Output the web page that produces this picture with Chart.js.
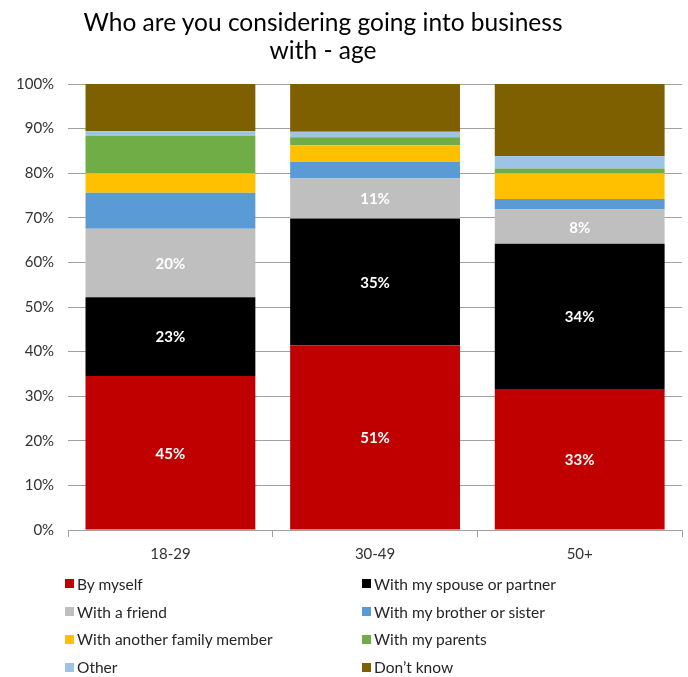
<!DOCTYPE html>
<html>
<head>
<meta charset="utf-8">
<script src="https://cdn.jsdelivr.net/npm/chart.js@4.4.1/dist/chart.umd.min.js"></script>
<style>
  body { margin: 0; background: #fff; }
  #wrap { position: relative; width: 688px; height: 677px; }
  #chart { position: absolute; left: 0; top: 0; }
  #title {
    position: absolute; left: 0; top: 8px; width: 646px; text-align: center;
    font-family: Lato, sans-serif; font-size: 24.5px; line-height: 28px; color: #000;
  }
  #legend {
    position: absolute; left: 65px; top: 570px;
    display: grid; grid-template-columns: 297px 300px; grid-auto-rows: 27.8px;
    font-family: Lato, sans-serif; font-size: 15.5px; color: #262626;
  }
  #legend div { display: flex; align-items: center; white-space: nowrap; }
  #legend span.box { width: 9px; height: 9px; margin-right: 3px; flex: none; }
</style>
</head>
<body>
<div id="wrap">
  <canvas id="chart" width="688" height="571"></canvas>
  <div id="title">Who are you considering going into business<br>with - age</div>
  <div id="legend"></div>
</div>
<script>
const categories = ['18-29', '30-49', '50+'];

// share of respondents per age group (multiple answers, so groups add up past 100)
const byMyself = [45, 51, 33];
const spouse = [23, 35, 34];
const friend = [20, 11, 8];
const sibling = [10.5, 4.6, 2.5];
const otherFamily = [5.7, 4.6, 6.0];
const parents = [10.9, 2.2, 1.1];
const other = [1.4, 1.5, 2.9];
const dontKnow = [13.8, 13.2, 16.9];

const seriesNames = [
    'By myself', 'With my spouse or partner', 'With a friend', 'With my brother or sister',
    'With another family member', 'With my parents', 'Other', 'Don\u2019t know'
];
const seriesColors = ['#C00000', '#000000', '#BFBFBF', '#5B9BD5', '#FFC000', '#70AD47', '#9DC3E6', '#7F6000'];
const series = [byMyself, spouse, friend, sibling, otherFamily, parents, other, dontKnow];

// labelled segments (first three series)
const labelled = 3;

// scale each group so the stack fills 100%
const totals = categories.map((c, j) => series.reduce((s, arr) => s + arr[j], 0));
const datasets = series.map((arr, i) => ({
    label: seriesNames[i],
    data: arr.map((v, j) => v / totals[j] * 100),
    backgroundColor: seriesColors[i],
    borderWidth: 0,
    categoryPercentage: 1,
    barPercentage: 0.83
}));

const segmentLabels = {
    id: 'segmentLabels',
    afterDatasetsDraw(chart) {
        const ctx = chart.ctx;
        ctx.save();
        ctx.fillStyle = '#fff';
        ctx.font = 'bold 15px Lato';
        ctx.textAlign = 'center';
        ctx.textBaseline = 'middle';
        for (let i = 0; i < labelled; i++) {
            chart.getDatasetMeta(i).data.forEach((bar, j) => {
                const { x, y, base } = bar.getProps(['x', 'y', 'base'], true);
                ctx.fillText(Math.round(series[i][j]) + '%', x, (y + base) / 2 + 1);
            });
        }
        ctx.restore();
    }
};

new Chart(document.getElementById('chart'), {
    type: 'bar',
    data: { labels: categories, datasets: datasets },
    options: {
        responsive: false,
        animation: false,
        layout: { padding: { left: 2, right: 6, top: 84, bottom: 0 } },
        plugins: {
            legend: { display: false },
            tooltip: { enabled: false }
        },
        scales: {
            x: {
                stacked: true,
                grid: { display: true, drawOnChartArea: false, offset: true, tickLength: 7, color: '#a0a0a0' },
                border: { color: '#a0a0a0' },
                ticks: { color: '#333', font: { family: 'Lato', size: 15 }, padding: 8 }
            },
            y: {
                stacked: true,
                min: 0,
                max: 100,
                grid: { color: '#a0a0a0', drawTicks: false },
                border: { display: false },
                ticks: {
                    stepSize: 10,
                    color: '#333',
                    font: { family: 'Lato', size: 15 },
                    padding: 14,
                    callback: v => v + '%'
                }
            }
        }
    },
    plugins: [segmentLabels]
});

const legend = document.getElementById('legend');
seriesNames.forEach((name, i) => {
    const item = document.createElement('div');
    item.innerHTML = '<span class="box" style="background:' + seriesColors[i] + '"></span>' + name;
    legend.appendChild(item);
});
</script>
</body>
</html>
